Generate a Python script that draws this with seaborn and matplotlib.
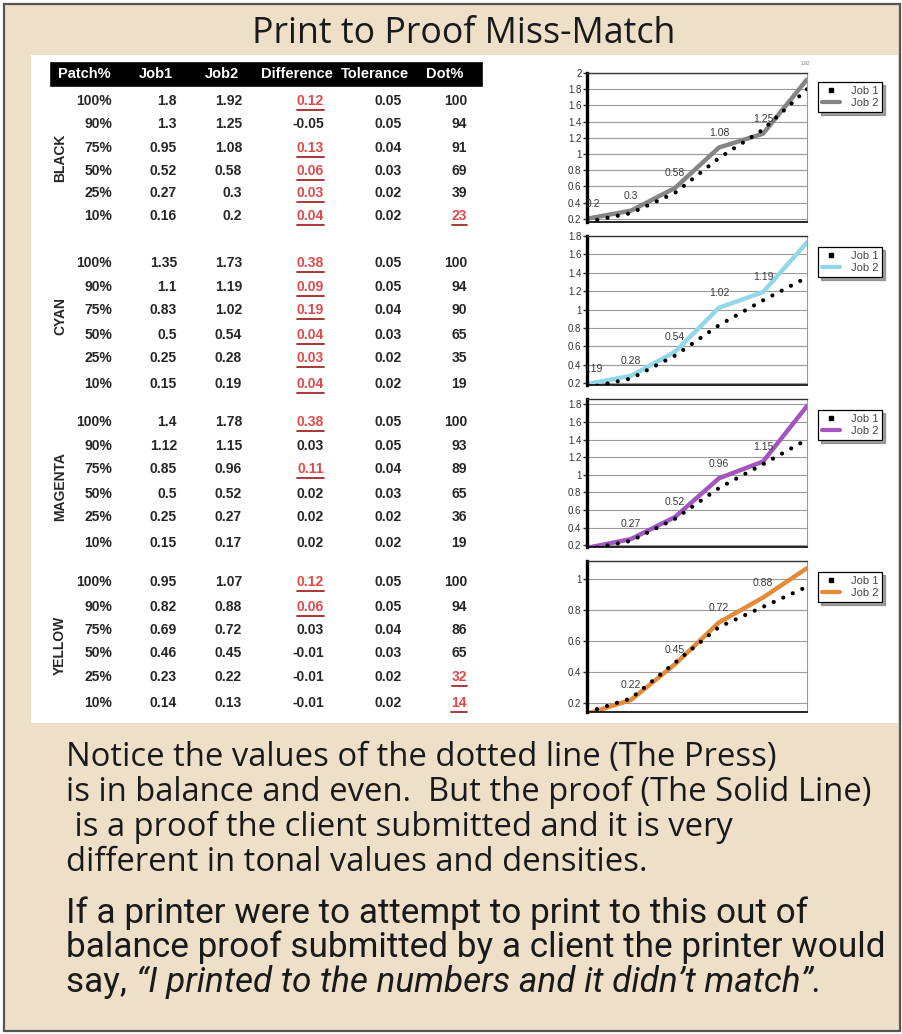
import matplotlib
matplotlib.use("Agg")
import matplotlib.pyplot as plt
import matplotlib.font_manager as fm
import seaborn as sns
import pandas as pd
from matplotlib.patches import Rectangle
from matplotlib.lines import Line2D

# ---- data -------------------------------------------------------------
patches = ["100%", "90%", "75%", "50%", "25%", "10%"]
inks = ["BLACK", "CYAN", "MAGENTA", "YELLOW"]
tolerance = [0.05, 0.05, 0.04, 0.03, 0.02, 0.02]

black_job1 = [1.8, 1.3, 0.95, 0.52, 0.27, 0.16]
black_job2 = [1.92, 1.25, 1.08, 0.58, 0.3, 0.2]
black_dot = [100, 94, 91, 69, 39, 23]
black_dot_flag = [0, 0, 0, 0, 0, 1]

cyan_job1 = [1.35, 1.1, 0.83, 0.5, 0.25, 0.15]
cyan_job2 = [1.73, 1.19, 1.02, 0.54, 0.28, 0.19]
cyan_dot = [100, 94, 90, 65, 35, 19]
cyan_dot_flag = [0, 0, 0, 0, 0, 0]

magenta_job1 = [1.4, 1.12, 0.85, 0.5, 0.25, 0.15]
magenta_job2 = [1.78, 1.15, 0.96, 0.52, 0.27, 0.17]
magenta_dot = [100, 93, 89, 65, 36, 19]
magenta_dot_flag = [0, 0, 0, 0, 0, 0]

yellow_job1 = [0.95, 0.82, 0.69, 0.46, 0.23, 0.14]
yellow_job2 = [1.07, 0.88, 0.72, 0.45, 0.22, 0.13]
yellow_dot = [100, 94, 86, 65, 32, 14]
yellow_dot_flag = [0, 0, 0, 0, 1, 1]

header = ["Patch%", "Job1", "Job2", "Difference", "Tolerance", "Dot%"]

para1 = ["Notice the values of the dotted line (The Press)",
         "is in balance and even.  But the proof (The Solid Line)",
         " is a proof the client submitted and it is very",
         "different in tonal values and densities."]
para2 = ["If a printer were to attempt to print to this out of",
         "balance proof submitted by a client the printer would"]
para2_last = "say, "
para2_quote = "\u201cI printed to the numbers and it didn\u2019t match\u201d."

# ---- style ------------------------------------------------------------
sns.set_style("white")
names = {f.name for f in fm.fontManager.ttflist}
body_font = "Open Sans" if "Open Sans" in names else "DejaVu Sans"
narrow_font = "Roboto" if "Roboto" in names else "Liberation Sans"
plt.rcParams["font.family"] = ["Liberation Sans", "DejaVu Sans"]

BEIGE = "#eddfc8"
RED = "#e0484a"
INK = "#262626"
W, H = 903, 1034

fig = plt.figure(figsize=(9.03, 10.34), dpi=100)
fig.patch.set_facecolor("white")

# overlay in pixel coordinates for panel, table and text
ov = fig.add_axes([0, 0, 1, 1])
ov.set_xlim(0, W)
ov.set_ylim(H, 0)
ov.axis("off")
ov.add_patch(Rectangle((4, 4), 896, 1027, facecolor=BEIGE, edgecolor="#555555", lw=1.6))
ov.add_patch(Rectangle((31, 55), 867, 668, facecolor="white", edgecolor="none"))

renderer = fig.canvas.get_renderer()
inv = ov.transData.inverted()


def fit_width(texts, target):
    # scale the font of a group of texts so their summed width hits target px
    w = sum(t.get_window_extent(renderer).width for t in texts)
    size = texts[0].get_fontsize() * target / w
    for t in texts:
        t.set_fontsize(size)
    return size


title = ov.text(464, 43, "Print to Proof Miss-Match", fontsize=25, family=body_font,
                ha="center", va="baseline", color="#1a1a1a")
fit_width([title], 424)

# ---- table ------------------------------------------------------------
ov.add_patch(Rectangle((49, 61), 434, 26, facecolor="black"))
head_x = [84, 156, 222, 297, 375, 445]
for hx, h in zip(head_x, header):
    ov.text(hx, 74, h, color="white", fontsize=10.5, fontweight="bold",
            ha="center", va="center")

col_right = [112, 177, 242, 324, 402, 467]
row_y = {
    "BLACK": [101, 124, 148, 171, 193, 216],
    "CYAN": [263, 287, 310, 335, 358, 384],
    "MAGENTA": [422, 446, 469, 494, 517, 543],
    "YELLOW": [582, 607, 630, 653, 677, 703],
}
label_y = {"BLACK": 158, "CYAN": 316, "MAGENTA": 487, "YELLOW": 645}

job1 = {"BLACK": black_job1, "CYAN": cyan_job1, "MAGENTA": magenta_job1, "YELLOW": yellow_job1}
job2 = {"BLACK": black_job2, "CYAN": cyan_job2, "MAGENTA": magenta_job2, "YELLOW": yellow_job2}
dots = {"BLACK": black_dot, "CYAN": cyan_dot, "MAGENTA": magenta_dot, "YELLOW": yellow_dot}
dot_flags = {"BLACK": black_dot_flag, "CYAN": cyan_dot_flag,
             "MAGENTA": magenta_dot_flag, "YELLOW": yellow_dot_flag}


def underline(t):
    bb = t.get_window_extent(renderer)
    (x0, yb), (x1, _) = inv.transform([(bb.x0, bb.y0), (bb.x1, bb.y0)])
    ov.plot([x0, x1], [yb + 1.5, yb + 1.5], color="#a02828", lw=1.3)


for ink in inks:
    ov.text(60, label_y[ink], ink, rotation=90, fontsize=10, fontweight="bold",
            color=INK, ha="center", va="center")
    for i, p in enumerate(patches):
        y = row_y[ink][i]
        a, b = job1[ink][i], job2[ink][i]
        diff = round(b - a, 2)
        cells = [p, f"{a:g}", f"{b:g}", f"{diff:.2f}", f"{tolerance[i]:.2f}", f"{dots[ink][i]}"]
        for j, s in enumerate(cells):
            red = (j == 3 and diff > tolerance[i]) or (j == 5 and dot_flags[ink][i])
            t = ov.text(col_right[j], y, s, fontsize=10, fontweight="bold",
                        color=RED if red else INK, ha="right", va="center")
            if red:
                underline(t)

# ---- charts -----------------------------------------------------------
chart_specs = [
    ("BLACK", "#858585", 73, 222, (0.16, 2.0), [0.2, 0.4, 0.6, 0.8, 1, 1.2, 1.4, 1.6, 1.8, 2], 82),
    ("CYAN", "#93d8e8", 236, 385, (0.18, 1.8), [0.2, 0.4, 0.6, 0.8, 1, 1.2, 1.4, 1.6, 1.8], 247),
    ("MAGENTA", "#a356c0", 399, 547, (0.18, 1.86), [0.2, 0.4, 0.6, 0.8, 1, 1.2, 1.4, 1.6, 1.8], 410),
    ("YELLOW", "#e38b36", 561, 712, (0.142, 1.116), [0.2, 0.4, 0.6, 0.8, 1], 572),
]

for ink, col, top, bot, ylim, yticks, leg_top in chart_specs:
    ax = fig.add_axes([587 / W, 1 - bot / H, (807 - 587) / W, (bot - top) / H])
    df = pd.DataFrame({
        "pos": range(len(patches)),
        "Job 1": job1[ink][::-1],
        "Job 2": job2[ink][::-1],
    })
    sns.lineplot(data=df, x="pos", y="Job 2", ax=ax, color=col, lw=3.2)
    sns.lineplot(data=df, x="pos", y="Job 1", ax=ax, color="black", lw=3,
                 linestyle=(0, (0.01, 2.5)), dash_capstyle="round")
    ax.set_xlim(0, len(patches) - 1)
    ax.set_ylim(*ylim)
    ax.set_yticks(yticks)
    ax.set_yticklabels([f"{v:g}" for v in yticks])
    ax.set_xticks([])
    ax.set_xlabel("")
    ax.set_ylabel("")
    ax.grid(axis="y", color="#9a9a9a", lw=0.8)
    ax.tick_params(axis="y", labelsize=7, colors="#333333", length=3, width=1, pad=1,
                   left=True)
    ax.spines["left"].set_linewidth(2.4)
    ax.spines["left"].set_color("black")
    ax.spines["bottom"].set_linewidth(1.2)
    ax.spines["bottom"].set_color("black")
    ax.spines["top"].set_linewidth(1.0)
    ax.spines["top"].set_color("#333333")
    ax.spines["right"].set_linewidth(0.8)
    ax.spines["right"].set_color("#9a9a9a")

    vals = df["Job 2"].tolist()
    for i, v in enumerate(vals[:-1]):
        ann = ax.annotate(f"{v:g}", (i, v), xytext=(4 if i == 0 else 0, 7),
                          textcoords="offset points", ha="center", va="bottom",
                          fontsize=7.5, color="#3a3a3a")
        if i == 0:
            # first label sits half behind the value axis, as in the original
            ann.set_clip_on(True)
            ann.set_clip_path(ax.patch)
    if ink == "BLACK":
        ax.annotate(f"{vals[-1]:g}", (len(vals) - 1, vals[-1]), xytext=(-1, 10),
                    textcoords="offset points", ha="center", va="bottom",
                    fontsize=3.5, color="#777777", annotation_clip=False)

    handles = [Line2D([], [], marker="s", ls="none", color="black", markersize=3),
               Line2D([], [], color=col, lw=3)]
    leg = ax.legend(handles, ["Job 1", "Job 2"], loc="upper left",
                    bbox_to_anchor=(818 / W, 1 - leg_top / H), bbox_transform=fig.transFigure,
                    borderaxespad=0, fontsize=8, frameon=True, fancybox=False, shadow=True,
                    handlelength=1.6, handletextpad=1.0, borderpad=0.35, labelspacing=0.2,
                    labelcolor="#444444")
    leg.get_frame().set_edgecolor("black")
    leg.get_frame().set_linewidth(0.9)

# ---- paragraphs -------------------------------------------------------
p1 = [ov.text(66, 766 + 35 * k, line, fontsize=22, family=body_font,
              ha="left", va="baseline", color="#1a1a1a") for k, line in enumerate(para1)]
fit_width(p1, 2760)

p2 = [ov.text(66, 923 + 34.5 * k, line, fontsize=23, family=narrow_font,
              ha="left", va="baseline", color="#1a1a1a") for k, line in enumerate(para2)]
size2 = fit_width([p2[1]], 822)
p2[0].set_fontsize(size2)
t_last = ov.text(66, 992, para2_last, fontsize=size2, family=narrow_font,
                 ha="left", va="baseline", color="#1a1a1a")
bb = t_last.get_window_extent(renderer)
x_end = inv.transform((bb.x1, bb.y0))[0]
ov.text(x_end, 992, para2_quote, fontsize=size2, family=narrow_font, style="italic",
        ha="left", va="baseline", color="#1a1a1a")

fig.savefig("out.png", dpi=100, facecolor=fig.get_facecolor())
